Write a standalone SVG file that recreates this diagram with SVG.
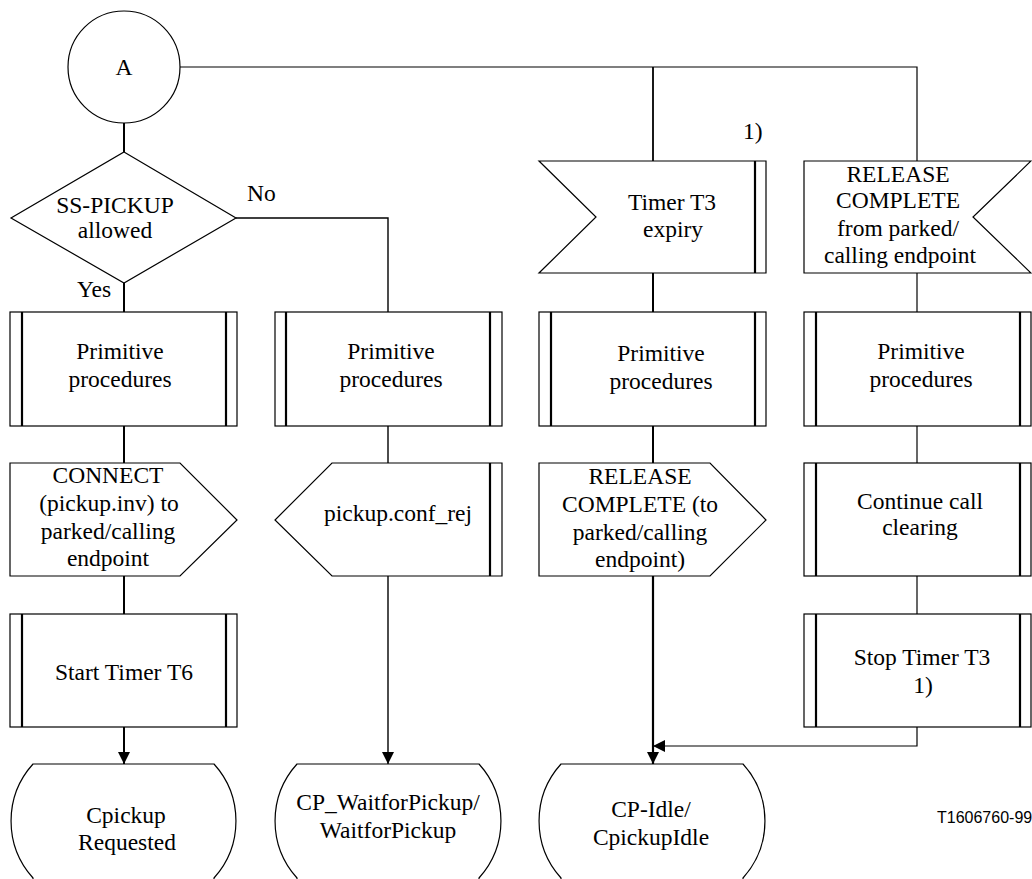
<svg xmlns="http://www.w3.org/2000/svg" width="1032" height="879" viewBox="0 0 1032 879">
<defs>
<style>
.s{fill:#fff;stroke:#000;stroke-width:1.2}
.d{stroke:#000;stroke-width:2.2;fill:none}
.c{stroke:#000;fill:none}
.t{font-family:"Liberation Serif",Tinos,"Times New Roman",Times,"Nimbus Roman","Nimbus Roman No9 L","DejaVu Serif","Noto Serif",serif;font-size:23.5px;fill:#000;text-anchor:middle}
.l{font-family:"Liberation Serif",Tinos,"Times New Roman",Times,"Nimbus Roman","Nimbus Roman No9 L","DejaVu Serif","Noto Serif",serif;font-size:23.5px;fill:#000}
.f{font-family:"Liberation Sans",Arial,sans-serif;font-size:16px;fill:#000}
</style>
<marker id="ah" viewBox="0 0 12 12" refX="12" refY="6" markerWidth="12" markerHeight="12" markerUnits="userSpaceOnUse" orient="auto">
<path d="M0,0 L12,6 L0,12 Z" fill="#000"/>
</marker>
</defs>
<rect width="1032" height="879" fill="#fff"/>
<g id="connectors">
<path class="c" stroke-width="1.2" d="M180,67 H917 V161"/>
<path class="c" stroke-width="1.8" d="M653,67 V161"/>
<path class="c" stroke-width="2" d="M124,123 V152"/>
<path class="c" stroke-width="2" d="M124,283 V312"/>
<path class="c" stroke-width="2" d="M124,426 V463"/>
<path class="c" stroke-width="2" d="M124,576 V614"/>
<path class="c" stroke-width="2" d="M124,727 V764" marker-end="url(#ah)"/>
<path class="c" stroke-width="1.4" d="M236,218 H388 V312"/>
<path class="c" stroke-width="1.4" d="M388,426 V463"/>
<path class="c" stroke-width="1.4" d="M388,576 V764" marker-end="url(#ah)"/>
<path class="c" stroke-width="2" d="M653,273 V312"/>
<path class="c" stroke-width="2" d="M653,426 V463"/>
<path class="c" stroke-width="2.2" d="M653,576 V764" marker-end="url(#ah)"/>
<path class="c" stroke-width="1.2" d="M917,273 V312"/>
<path class="c" stroke-width="1.2" d="M917,426 V463"/>
<path class="c" stroke-width="1.2" d="M917,576 V614"/>
<path class="c" stroke-width="1.2" d="M917,727 V746 H653" marker-end="url(#ah)"/>
</g>
<g id="nodeA">
<circle class="s" cx="124" cy="67" r="56"/>
<text class="t" x="124" y="75">A</text>
</g>
<g id="decision">
<polygon class="s" points="124,152 236,218 124,283 11,218"/>
<text class="t" x="115" y="213">SS-PICKUP</text>
<text class="t" x="115" y="238">allowed</text>
<text class="l" x="247" y="201">No</text>
<text class="l" x="77" y="297">Yes</text>
</g>
<g id="timerT3">
<polygon class="s" points="539,161 766,161 766,273 539,273 596,217"/>
<line class="d" x1="755" y1="161" x2="755" y2="273"/>
<text class="t" x="672" y="210">Timer T3</text>
<text class="t" x="673" y="237">expiry</text>
<text class="l" x="743" y="139">1)</text>
</g>
<g id="relIn">
<polygon class="s" points="804,161 1031,161 973,217 1031,273 804,273"/>
<text class="t" x="898" y="182">RELEASE</text>
<text class="t" x="898" y="208">COMPLETE</text>
<text class="t" x="898" y="236">from parked/</text>
<text class="t" x="900" y="263">calling endpoint</text>
</g>
<g id="prim1">
<rect class="s" x="10" y="312" width="227" height="114"/>
<line class="d" x1="22" y1="312" x2="22" y2="426"/>
<line class="d" x1="226" y1="312" x2="226" y2="426"/>
<text class="t" x="120" y="359">Primitive</text>
<text class="t" x="120" y="387">procedures</text>
</g>
<g id="prim2">
<rect class="s" x="275" y="312" width="227" height="114"/>
<line class="d" x1="286" y1="312" x2="286" y2="426"/>
<line class="d" x1="490" y1="312" x2="490" y2="426"/>
<text class="t" x="391" y="359">Primitive</text>
<text class="t" x="391" y="387">procedures</text>
</g>
<g id="prim3">
<rect class="s" x="539" y="312" width="227" height="114"/>
<line class="d" x1="551" y1="312" x2="551" y2="426"/>
<line class="d" x1="755" y1="312" x2="755" y2="426"/>
<text class="t" x="661" y="361">Primitive</text>
<text class="t" x="661" y="389">procedures</text>
</g>
<g id="prim4">
<rect class="s" x="804" y="312" width="227" height="114"/>
<line class="d" x1="816" y1="312" x2="816" y2="426"/>
<line class="d" x1="1020" y1="312" x2="1020" y2="426"/>
<text class="t" x="921" y="359">Primitive</text>
<text class="t" x="921" y="387">procedures</text>
</g>
<g id="connectOut">
<polygon class="s" points="10,463 180,463 237,520 180,576 10,576"/>
<text class="t" x="108" y="483">CONNECT</text>
<text class="t" x="109" y="511">(pickup.inv) to</text>
<text class="t" x="108" y="539">parked/calling</text>
<text class="t" x="108" y="566">endpoint</text>
</g>
<g id="confRej">
<polygon class="s" points="332,463 502,463 502,576 332,576 275,520"/>
<line class="d" x1="490" y1="463" x2="490" y2="576"/>
<text class="t" x="398" y="521">pickup.conf_rej</text>
</g>
<g id="relOut">
<polygon class="s" points="539,463 710,463 766,520 710,576 539,576"/>
<text class="t" x="640" y="484">RELEASE</text>
<text class="t" x="640" y="512">COMPLETE (to</text>
<text class="t" x="640" y="540">parked/calling</text>
<text class="t" x="640" y="567">endpoint)</text>
</g>
<g id="contClear">
<rect class="s" x="804" y="463" width="227" height="113"/>
<line class="d" x1="816" y1="463" x2="816" y2="576"/>
<line class="d" x1="1020" y1="463" x2="1020" y2="576"/>
<text class="t" x="920" y="509">Continue call</text>
<text class="t" x="920" y="535">clearing</text>
</g>
<g id="startT6">
<rect class="s" x="10" y="614" width="227" height="113"/>
<line class="d" x1="22" y1="614" x2="22" y2="727"/>
<line class="d" x1="226" y1="614" x2="226" y2="727"/>
<text class="t" x="124" y="680">Start Timer T6</text>
</g>
<g id="stopT3">
<rect class="s" x="804" y="614" width="227" height="113"/>
<line class="d" x1="816" y1="614" x2="816" y2="727"/>
<line class="d" x1="1020" y1="614" x2="1020" y2="727"/>
<text class="t" x="922" y="665">Stop Timer T3</text>
<text class="t" x="923" y="693">1)</text>
</g>
<g id="state1">
<path class="s" d="M33,764 H214 A85,85 0 0 1 214,878 V886 H33 V878 A85,85 0 0 1 33,764 Z"/>
<text class="t" x="126" y="823">Cpickup</text>
<text class="t" x="127" y="850">Requested</text>
</g>
<g id="state2">
<path class="s" d="M297,764 H479 A85,85 0 0 1 479,878 V886 H297 V878 A85,85 0 0 1 297,764 Z"/>
<text class="t" x="388" y="810">CP_WaitforPickup/</text>
<text class="t" x="388" y="838">WaitforPickup</text>
</g>
<g id="state3">
<path class="s" d="M561,764 H743 A85,85 0 0 1 743,878 V886 H561 V878 A85,85 0 0 1 561,764 Z"/>
<text class="t" x="651" y="817">CP-Idle/</text>
<text class="t" x="651" y="845">CpickupIdle</text>
</g>
<text class="f" x="937" y="823">T1606760-99</text>
</svg>
